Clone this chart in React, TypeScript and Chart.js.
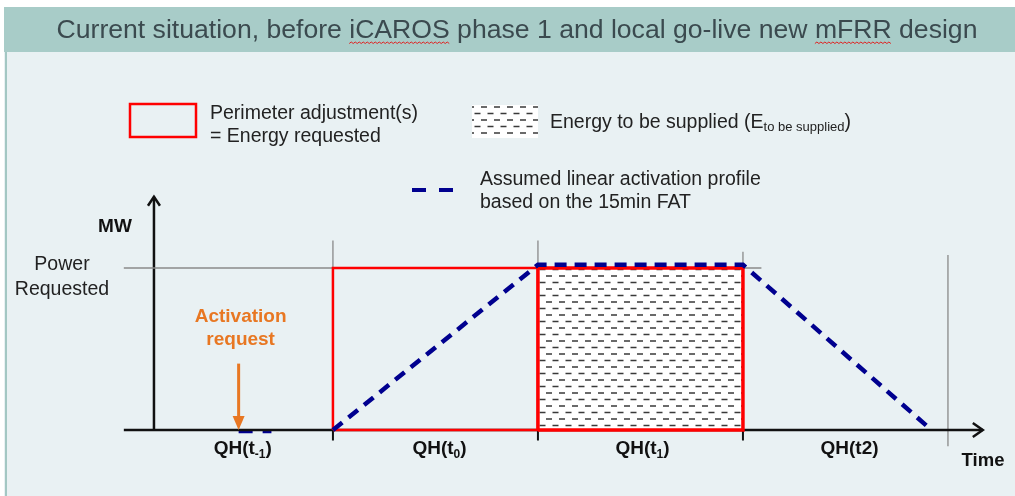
import React, { useEffect, useRef } from 'react';
import { Chart, registerables } from 'chart.js';

Chart.register(...registerables);

// ---------- data ----------
const TITLE = 'Current situation, before iCAROS phase 1 and local go-live new mFRR design';
const TITLE_MARKED_WORDS = ['iCAROS', 'mFRR'];

// time axis in quarter-hours: t0 starts at 0
const QH_LABEL_T = [-0.44, 0.52, 1.51, 2.52];
const QH_LABEL_MAIN = ['QH(t', 'QH(t', 'QH(t', 'QH(t2'];
const QH_LABEL_SUB = ['-1', '0', '1', ''];

const POWER_REQUESTED = 1;
const POWER_LINE_T = [-1.02, 2.09];

// assumed linear activation profile (15min FAT)
const PROFILE_T = [0, 1, 2, 2.92];
const PROFILE_P = [0, 1.02, 1.02, 0];
const PRE_PROFILE_T = [-0.46, -0.3];

// perimeter adjustments (energy requested) per QH
const RECT_REQUESTED = [0, 1];
const RECT_SUPPLIED = [1, 2];

// grey guide lines
const GRID_T = [0, 1, 2, 3];
const GRID_BOTTOM = [0, 0, 0.95, -0.1];
const GRID_TOP = [1.17, 1.17, 1.1, 1.08];

// axis ticks
const TICK_T = [0, 1, 2];
const TICK_DEPTH = -0.065;

// axes
const X_AXIS_T = [-1.02, 3.17];
const Y_AXIS_T = -0.873;
const Y_AXIS_TOP = 1.44;

// activation request
const ACTIVATION_T = -0.46;
const ACTIVATION_ARROW_TOP = 0.41;

const LEGEND_TEXTS = {
  perimeter1: 'Perimeter adjustment(s)',
  perimeter2: '= Energy requested',
  energy: 'Energy to be supplied (E',
  energySub: 'to be supplied',
  energyEnd: ')',
  profile1: 'Assumed linear activation profile',
  profile2: 'based on the 15min FAT',
};

// ---------- styles ----------
const FONT = '"Liberation Sans", Arial, sans-serif';
const BLUE = '#00008f';
const RED = '#ff0000';
const ORANGE = '#e87722';
const GREY = '#8a8a8a';
const BLACK = '#111111';
const W = 1015;
const H = 496;

function makePattern(): CanvasPattern | string {
  const c = document.createElement('canvas');
  c.width = 13;
  c.height = 13;
  const g = c.getContext('2d');
  if (!g) return '#ffffff';
  g.fillStyle = '#ffffff';
  g.fillRect(0, 0, 13, 13);
  g.strokeStyle = '#3a3a3a';
  g.lineWidth = 1.3;
  g.beginPath();
  g.moveTo(0, 3);
  g.lineTo(6, 3);
  g.moveTo(6.5, 9.5);
  g.lineTo(12.5, 9.5);
  g.stroke();
  const p = g.createPattern(c, 'repeat');
  return p || '#ffffff';
}

function rectPoints(t: number[], h: number) {
  return [
    { x: t[0], y: 0 },
    { x: t[0], y: h },
    { x: t[1], y: h },
    { x: t[1], y: 0 },
    { x: t[0], y: 0 },
  ];
}

function segments(ts: number[], bottoms: number[], tops: number[]) {
  const pts: { x: number; y: number | null }[] = [];
  ts.forEach((t, i) => {
    pts.push({ x: t, y: bottoms[i] });
    pts.push({ x: t, y: tops[i] });
    pts.push({ x: t, y: null });
  });
  return pts;
}

function drawSquiggle(ctx: CanvasRenderingContext2D, x0: number, x1: number, y: number) {
  ctx.save();
  ctx.strokeStyle = '#e02020';
  ctx.lineWidth = 1;
  ctx.beginPath();
  let up = true;
  ctx.moveTo(x0, y);
  for (let x = x0 + 2; x <= x1; x += 2) {
    ctx.lineTo(x, up ? y - 1.5 : y);
    up = !up;
  }
  ctx.stroke();
  ctx.restore();
}

export default function App() {
  const ref = useRef<HTMLCanvasElement | null>(null);

  useEffect(() => {
    const canvas = ref.current;
    if (!canvas) return;
    const pattern = makePattern();

    const backgroundPlugin = {
      id: 'slideBackground',
      beforeDraw(chart: any) {
        const ctx: CanvasRenderingContext2D = chart.ctx;
        ctx.save();
        ctx.fillStyle = '#ffffff';
        ctx.fillRect(0, 0, W, H);
        ctx.fillStyle = '#e9f1f3';
        ctx.fillRect(4, 52, W - 4, H - 52);
        ctx.fillStyle = '#a8ccc8';
        ctx.fillRect(4, 7, W - 4, 45);
        ctx.strokeStyle = '#a3c7c3';
        ctx.lineWidth = 2;
        ctx.beginPath();
        ctx.moveTo(6, 52);
        ctx.lineTo(6, H);
        ctx.stroke();
        // title
        ctx.font = `26.6px ${FONT}`;
        ctx.fillStyle = '#3b4a4f';
        ctx.textBaseline = 'alphabetic';
        const tw = ctx.measureText(TITLE).width;
        const tx = 517 - tw / 2;
        ctx.textAlign = 'left';
        ctx.fillText(TITLE, tx, 37.5);
        TITLE_MARKED_WORDS.forEach((w) => {
          const idx = TITLE.indexOf(w);
          const a = tx + ctx.measureText(TITLE.slice(0, idx)).width;
          const b = a + ctx.measureText(w).width;
          drawSquiggle(ctx, a, b, 43.5);
        });
        ctx.restore();
      },
    };

    const annotationPlugin = {
      id: 'diagramAnnotations',
      afterDatasetsDraw(chart: any) {
        const ctx: CanvasRenderingContext2D = chart.ctx;
        const xs = chart.scales.x;
        const ys = chart.scales.y;
        const px = (v: number) => xs.getPixelForValue(v);
        const py = (v: number) => ys.getPixelForValue(v);
        ctx.save();

        // axis arrowheads (open chevrons)
        ctx.strokeStyle = BLACK;
        ctx.lineWidth = 2.5;
        ctx.lineCap = 'butt';
        ctx.lineJoin = 'miter';
        const xe = px(X_AXIS_T[1]);
        const y0 = py(0);
        ctx.beginPath();
        ctx.moveTo(xe - 10, y0 - 7);
        ctx.lineTo(xe, y0);
        ctx.lineTo(xe - 10, y0 + 7);
        ctx.stroke();
        const ya = py(Y_AXIS_TOP);
        const yx = px(Y_AXIS_T);
        ctx.beginPath();
        ctx.moveTo(yx - 6, ya + 9);
        ctx.lineTo(yx, ya);
        ctx.lineTo(yx + 6, ya + 9);
        ctx.stroke();

        // activation request arrow
        const ax = px(ACTIVATION_T);
        ctx.strokeStyle = ORANGE;
        ctx.fillStyle = ORANGE;
        ctx.lineWidth = 3;
        ctx.beginPath();
        ctx.moveTo(ax, py(ACTIVATION_ARROW_TOP));
        ctx.lineTo(ax, y0 - 12);
        ctx.stroke();
        ctx.beginPath();
        ctx.moveTo(ax - 6, y0 - 14);
        ctx.lineTo(ax + 6, y0 - 14);
        ctx.lineTo(ax, y0);
        ctx.closePath();
        ctx.fill();

        ctx.textBaseline = 'alphabetic';
        ctx.textAlign = 'center';
        ctx.font = `bold 19px ${FONT}`;
        ctx.fillText('Activation', ax + 2, 322);
        ctx.fillText('request', ax + 2, 345);

        // axis titles
        ctx.fillStyle = BLACK;
        ctx.font = `bold 19px ${FONT}`;
        ctx.fillText('MW', 115, 231.5);
        ctx.font = `bold 18.5px ${FONT}`;
        ctx.fillText('Time', 983, 466);
        ctx.fillStyle = '#222222';
        ctx.font = `19.5px ${FONT}`;
        ctx.fillText('Power', 62, 270);
        ctx.fillText('Requested', 62, 295);

        // QH labels
        ctx.fillStyle = BLACK;
        QH_LABEL_T.forEach((t, i) => {
          const main = QH_LABEL_MAIN[i];
          const sub = QH_LABEL_SUB[i];
          ctx.font = `bold 19px ${FONT}`;
          const wm = ctx.measureText(main).width;
          const wc = ctx.measureText(')').width;
          ctx.font = `bold 12px ${FONT}`;
          const ws = sub ? ctx.measureText(sub).width : 0;
          const total = wm + ws + wc;
          let x = px(t) - total / 2;
          ctx.textAlign = 'left';
          ctx.font = `bold 19px ${FONT}`;
          ctx.fillText(main, x, 454);
          x += wm;
          if (sub) {
            ctx.font = `bold 12px ${FONT}`;
            ctx.fillText(sub, x, 458);
            x += ws;
          }
          ctx.font = `bold 19px ${FONT}`;
          ctx.fillText(')', x, 454);
        });

        // legend: perimeter adjustments
        ctx.strokeStyle = RED;
        ctx.lineWidth = 2.5;
        ctx.strokeRect(130, 104, 66, 33);
        ctx.fillStyle = '#222222';
        ctx.font = `19.5px ${FONT}`;
        ctx.textAlign = 'left';
        ctx.fillText(LEGEND_TEXTS.perimeter1, 210, 118.5);
        ctx.fillText(LEGEND_TEXTS.perimeter2, 210, 141.5);

        // legend: energy to be supplied
        ctx.fillStyle = pattern as any;
        ctx.fillRect(472, 105, 66, 33);
        ctx.fillStyle = '#222222';
        ctx.font = `19.5px ${FONT}`;
        let lx = 550;
        ctx.fillText(LEGEND_TEXTS.energy, lx, 128);
        lx += ctx.measureText(LEGEND_TEXTS.energy).width;
        ctx.font = `13px ${FONT}`;
        ctx.fillText(LEGEND_TEXTS.energySub, lx, 131);
        lx += ctx.measureText(LEGEND_TEXTS.energySub).width;
        ctx.font = `19.5px ${FONT}`;
        ctx.fillText(LEGEND_TEXTS.energyEnd, lx, 128);

        // legend: activation profile
        ctx.strokeStyle = BLUE;
        ctx.lineWidth = 4;
        ctx.setLineDash([14, 13]);
        ctx.beginPath();
        ctx.moveTo(412, 190);
        ctx.lineTo(455, 190);
        ctx.stroke();
        ctx.setLineDash([]);
        ctx.fillText(LEGEND_TEXTS.profile1, 480, 185);
        ctx.fillText(LEGEND_TEXTS.profile2, 480, 208);

        ctx.restore();
      },
    };

    const common = { pointRadius: 0, tension: 0, borderCapStyle: 'butt', borderJoinStyle: 'miter' };

    const chart = new Chart(canvas, {
      type: 'line',
      data: {
        datasets: [
          {
            // activation profile (top-most)
            ...common,
            data: PROFILE_T.map((t, i) => ({ x: t, y: PROFILE_P[i] })),
            borderColor: BLUE,
            borderWidth: 4.5,
            borderDash: [12, 8],
            fill: false,
          },
          {
            // energy to be supplied: border
            ...common,
            data: rectPoints(RECT_SUPPLIED, POWER_REQUESTED),
            borderColor: RED,
            borderWidth: 3.5,
            fill: false,
          },
          {
            // energy to be supplied: hatched fill
            ...common,
            data: rectPoints(RECT_SUPPLIED, POWER_REQUESTED).slice(0, 4),
            borderColor: 'rgba(0,0,0,0)',
            borderWidth: 0,
            backgroundColor: pattern as any,
            fill: 'origin',
          },
          {
            // perimeter adjustment in QH(t0)
            ...common,
            data: rectPoints(RECT_REQUESTED, POWER_REQUESTED),
            borderColor: RED,
            borderWidth: 2.5,
            fill: false,
          },
          {
            // ticks on time axis
            ...common,
            data: segments(TICK_T, TICK_T.map(() => 0), TICK_T.map(() => TICK_DEPTH)),
            borderColor: BLACK,
            borderWidth: 2,
            spanGaps: false,
            fill: false,
          },
          {
            // time axis
            ...common,
            data: X_AXIS_T.map((t) => ({ x: t, y: 0 })),
            borderColor: BLACK,
            borderWidth: 2.5,
            fill: false,
          },
          {
            // profile before t0
            ...common,
            data: PRE_PROFILE_T.map((t) => ({ x: t, y: -0.008 })),
            borderColor: BLUE,
            borderWidth: 4,
            borderDash: [14, 10],
            fill: false,
          },
          {
            // power requested level
            ...common,
            data: POWER_LINE_T.map((t) => ({ x: t, y: POWER_REQUESTED })),
            borderColor: GREY,
            borderWidth: 1.3,
            fill: false,
          },
          {
            // QH boundary guides
            ...common,
            data: segments(GRID_T, GRID_BOTTOM, GRID_TOP),
            borderColor: GREY,
            borderWidth: 1.3,
            spanGaps: false,
            fill: false,
          },
          {
            // MW axis
            ...common,
            data: [
              { x: Y_AXIS_T, y: 0 },
              { x: Y_AXIS_T, y: Y_AXIS_TOP },
            ],
            borderColor: BLACK,
            borderWidth: 2.5,
            fill: false,
          },
        ] as any,
      },
      options: {
        animation: false,
        responsive: false,
        events: [],
        layout: { padding: 0 },
        scales: {
          x: { type: 'linear', min: -1.624, max: 3.327, display: false },
          y: { type: 'linear', min: -0.407, max: 2.654, display: false },
        },
        plugins: {
          legend: { display: false },
          tooltip: { enabled: false },
          title: { display: false },
        },
      } as any,
      plugins: [backgroundPlugin, annotationPlugin],
    });

    return () => chart.destroy();
  }, []);

  return (
    <div style={{ position: 'fixed', left: 0, top: 0, width: W, height: H }}>
      <canvas ref={ref} width={W} height={H} style={{ display: 'block', width: W, height: H }} />
    </div>
  );
}
